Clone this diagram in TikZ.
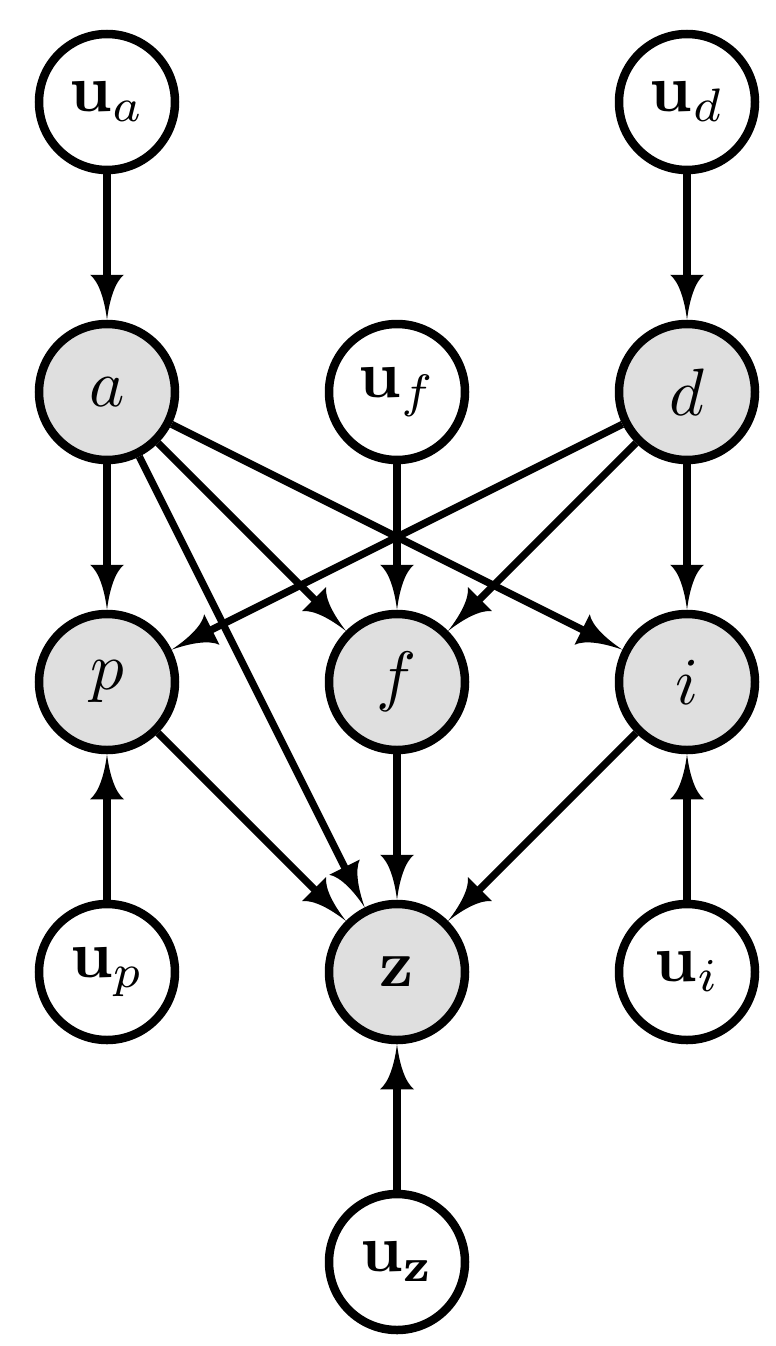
\documentclass[tikz,border=0pt]{standalone}
\pgfdeclarearrow{
  name=Cc,
  setup code={
    \pgfarrowssettipend{0pt}
    \pgfarrowssetlineend{-30pt}
    \pgfarrowssetbackend{-45pt}
    \pgfarrowssetvisualbackend{-45pt}
    \pgfarrowshullpoint{0pt}{0pt}
    \pgfarrowshullpoint{-45pt}{17pt}
    \pgfarrowshullpoint{-45pt}{-17pt}
  },
  drawing code={
    \pgfpathmoveto{\pgfpointorigin}
    \pgfpathcurveto{\pgfpoint{-20pt}{2.5pt}}{\pgfpoint{-38pt}{8pt}}{\pgfpoint{-45pt}{17pt}}
    \pgfpathlineto{\pgfpoint{-45pt}{-17pt}}
    \pgfpathcurveto{\pgfpoint{-38pt}{-8pt}}{\pgfpoint{-20pt}{-2.5pt}}{\pgfpointorigin}
    \pgfpathclose
    \pgfusepathqfill
  }
}
\newcommand{\nodemath}[1]{\scalebox{6.7}{$#1$}}
\begin{document}
\begin{tikzpicture}[x=1pt,y=-1pt,
  nodebase/.style={circle,draw,line width=8.5pt,minimum size=136pt,inner sep=0pt},
  obs/.style={nodebase,fill=white},
  lat/.style={nodebase,fill=gray!25},
  edge/.style={line width=7.3pt,-Cc}]
\useasboundingbox (0,0) rectangle (776,1346);
\node[obs] (ua) at (107,102) {\nodemath{\mathbf{u}_a}};
\node[obs] (ud) at (687,102) {\nodemath{\mathbf{u}_d}};
\node[lat] (a) at (107,392) {\nodemath{a}};
\node[obs] (uf) at (397,392) {\nodemath{\mathbf{u}_f}};
\node[lat] (d) at (687,392) {\nodemath{d}};
\node[lat] (p) at (107,682) {\nodemath{p}};
\node[lat] (f) at (397,682) {\nodemath{f}};
\node[lat] (i) at (687,682) {\nodemath{i}};
\node[obs] (up) at (107,972) {\nodemath{\mathbf{u}_p}};
\node[lat] (z) at (397,972) {\nodemath{\mathbf{z}}};
\node[obs] (ui) at (687,972) {\nodemath{\mathbf{u}_i}};
\node[obs] (uz) at (397,1262) {\nodemath{\mathbf{u}_\mathbf{z}}};
\draw[edge] (ua) -- (a);
\draw[edge] (ud) -- (d);
\draw[edge] (uf) -- (f);
\draw[edge] (a) -- (p);
\draw[edge] (a) -- (f);
\draw[edge] (a) -- (i);
\draw[edge] (a) -- (z);
\draw[edge] (d) -- (p);
\draw[edge] (d) -- (f);
\draw[edge] (d) -- (i);
\draw[edge] (p) -- (z);
\draw[edge] (f) -- (z);
\draw[edge] (i) -- (z);
\draw[edge] (up) -- (p);
\draw[edge] (ui) -- (i);
\draw[edge] (uz) -- (z);
\end{tikzpicture}
\end{document}
